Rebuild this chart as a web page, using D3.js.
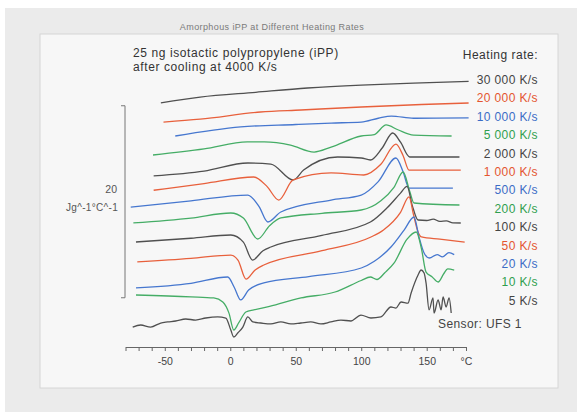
<!DOCTYPE html>
<html>
<head>
<meta charset="utf-8">
<script src="https://cdn.jsdelivr.net/npm/d3@7"></script>
<style>
body { margin: 0; background: #fff; }
svg { display: block; font-family: "Liberation Sans", Arial, sans-serif; }
.barlabel { fill: #555; }
</style>
</head>
<body>
<svg id="chart" width="577" height="412"></svg>
<script>
// heating rates, top to bottom
var rates = ["30 000 K/s", "20 000 K/s", "10 000 K/s", "5 000 K/s", "2 000 K/s", "1 000 K/s",
    "500 K/s", "200 K/s", "100 K/s", "50 K/s", "20 K/s", "10 K/s", "5 K/s"];

var xTicks = d3.range(-80, 181, 10),
    xLabels = [-50, 0, 50, 100, 150];

// [temperature °C, shifted heat capacity J/g/°C]
var cp30000 = [[-53, 24.7], [-23, 25.3], [19.5, 25.8], [59, 26.25], [100, 26.55], [140, 26.75], [182, 26.95]];
var cp20000 = [[-51, 22.7], [-23, 23.0], [23, 23.75], [54, 23.96], [100, 24.27], [146, 24.53], [182, 24.69]];
var cp10000 = [[-42, 21.25], [8, 22.2], [50, 22.45], [77, 22.6], [100, 22.7], [113, 23.1], [123, 23.33],
    [140, 23.1], [182, 23.13]];
var cp5000 = [[-59, 19.27], [-20, 19.9], [13, 20.63], [26, 20.63], [46, 20.3], [64, 19.58], [77, 20.1],
    [100, 21.25], [110, 21.4], [119, 22.4], [128, 21.9], [140, 21.35], [169, 21.25]];
var cp2000 = [[-58.5, 17.1], [-20, 17.6], [13.4, 18.44], [31, 18.33], [48, 16.67], [56, 17.7], [82, 19.06],
    [100, 18.96], [107, 18.75], [116, 20.0], [124, 21.56], [130, 20.6], [137, 19.06], [175, 19.06]];
var cp1000 = [[-58.5, 15.6], [-20, 16.3], [18, 16.98], [28, 16.0], [37, 14.58], [48, 16.67], [77, 17.4],
    [102, 17.19], [115, 18.3], [126.5, 20.4], [132, 19.2], [136.5, 17.7], [176, 17.7]];
var cp500 = [[-76, 13.85], [-30, 14.5], [13.4, 15.1], [22, 13.9], [28.7, 12.29], [38.6, 13.33], [77, 14.58],
    [100, 15.1], [113, 16.5], [126.5, 18.96], [132, 17.5], [136.5, 15.83], [170, 15.83]];
var cp200 = [[-74, 12.19], [-30, 12.7], [0.4, 13.23], [10, 12.7], [21, 10.52], [30, 11.9], [38.6, 12.71],
    [70, 13.2], [100, 13.54], [115, 14.5], [125, 15.9], [132, 17.5], [137, 15.5], [140.3, 14.27], [175, 14.06]];
var cp100 = [[-72, 10.21], [-30, 10.6], [0.4, 10.94], [10, 10.2], [17, 8.33], [25, 9.3], [31, 9.69],
    [70, 10.9], [107, 12.29], [120, 13.8], [130, 15.3], [135, 16.0], [139, 14.0], [143.4, 12.5],
    [150, 12.45], [155, 12.6], [160, 12.35], [165, 12.4], [170, 12.2], [176, 12.19]];
var cp50 = [[-71, 8.13], [-30, 8.5], [0.4, 8.85], [6, 8.3], [12, 6.35], [19, 7.3], [25.6, 7.81], [70, 9.3],
    [107, 10.7], [117, 11.46], [130, 13.3], [136.5, 14.9], [140, 13.0], [143.4, 11.25], [146, 10.73],
    [160, 10.5], [179, 10.2]];
var cp20 = [[-72, 5.42], [-30, 5.9], [-1.9, 6.56], [3, 5.5], [8, 4.17], [14, 5.2], [25.6, 5.94], [60, 6.6],
    [100, 7.5], [110, 8.2], [122.7, 9.69], [133, 11.5], [140.3, 12.81], [144, 10.8], [148, 9.06], [152, 8.54],
    [158, 8.9], [162, 8.65], [167, 9.1], [171, 8.9]];
var cp10 = [[-72, 4.69], [-30, 4.5], [-12.6, 4.38], [-5.7, 3.96], [-1, 2.8], [2.7, 1.04], [6.5, 1.8],
    [11.9, 2.92], [18, 3.13], [30, 3.5], [54, 4.38], [80, 5.0], [100, 6.2], [107, 6.56], [112, 6.3],
    [118, 7.0], [125, 8.0], [135, 10.5], [142, 11.25], [146, 9.5], [149.5, 7.08], [154, 6.6], [158.7, 6.04],
    [163, 6.9], [166, 7.4], [171, 7.29]];
var cp5 = [[-74.5, 1.35], [-68.4, 1.56], [-60.8, 1.35], [-53.1, 1.77], [-47.8, 1.88], [-41.7, 1.98],
    [-34, 2.19], [-26.4, 2.08], [-18.7, 2.29], [-9.6, 2.4], [-3.4, 2.29], [0.4, 1.04], [2.7, 0.31],
    [5.7, 0.73], [9.6, 1.35], [13.4, 2.4], [17.2, 1.88], [23.3, 1.77], [31, 1.67], [38.6, 1.88], [46.3, 1.67],
    [53.9, 1.77], [61.5, 1.88], [69.2, 1.67], [76.8, 1.88], [84.5, 2.08], [92.1, 1.98], [99.8, 2.6],
    [107.4, 2.29], [115, 2.4], [122.7, 3.44], [126.5, 3.33], [130.4, 3.96], [135.7, 3.85], [138.1, 4.9],
    [143.4, 6.77], [145.7, 7.29], [148, 6.98], [149.5, 5.94], [151.8, 3.13], [154.8, 4.38], [155.6, 2.81],
    [158.7, 4.17], [161, 3.13], [162.5, 4.48], [164.8, 3.44], [167.1, 4.38], [168.7, 2.81]];

var series = [cp30000, cp20000, cp10000, cp5000, cp2000, cp1000, cp500, cp200, cp100, cp50, cp20, cp10, cp5];

// scale bar: 20 J/g/°C
var barFrom = 4.4,
    barSize = 20;

var lineColors = ["#505050", "#e8603c", "#4677cf", "#45ad66"],
    textColors = ["#444", "#e4552f", "#3b6cc6", "#2f9f4e"];

var svg = d3.select("#chart");

svg.append("rect")
    .attr("x", 5)
    .attr("y", 8)
    .attr("width", 572)
    .attr("height", 404)
    .attr("fill", "#ebebeb");

svg.append("rect")
    .attr("x", 40)
    .attr("y", 34)
    .attr("width", 518)
    .attr("height", 354)
    .attr("fill", "#f7f7f7")
    .attr("stroke", "#d6d6d6");

svg.append("text")
    .attr("x", 272)
    .attr("y", 30)
    .attr("text-anchor", "middle")
    .attr("font-size", 9)
    .attr("letter-spacing", 0.4)
    .attr("fill", "#7a7a7a")
    .text("Amorphous iPP at Different Heating Rates");

svg.append("text")
    .attr("x", 133)
    .attr("y", 57)
    .attr("font-size", 12)
    .attr("letter-spacing", 0.6)
    .attr("fill", "#333")
    .text("25 ng isotactic polypropylene (iPP)");

svg.append("text")
    .attr("x", 133)
    .attr("y", 71)
    .attr("font-size", 12)
    .attr("letter-spacing", 0.6)
    .attr("fill", "#333")
    .text("after cooling at 4000 K/s");

var x = d3.scaleLinear().domain([-80, 180]).range([125.5, 466]);
var y = d3.scaleLinear().domain([0, 30]).range([340, 52]);

var line = d3.line()
    .x(function(d) { return x(d[0]); })
    .y(function(d) { return y(d[1]); })
    .curve(d3.curveMonotoneX);

svg.append("g").selectAll("path")
    .data(series)
    .enter().append("path")
    .attr("d", line)
    .attr("fill", "none")
    .attr("stroke", function(d, i) { return lineColors[i % 4]; })
    .attr("stroke-width", 1.3);

// legend
svg.append("text")
    .attr("x", 538)
    .attr("y", 59)
    .attr("text-anchor", "end")
    .attr("font-size", 12)
    .attr("letter-spacing", 0.5)
    .attr("fill", "#333")
    .text("Heating rate:");

svg.append("g").selectAll("text")
    .data(rates)
    .enter().append("text")
    .attr("x", 538)
    .attr("y", function(d, i) { return 84 + i * 18.4; })
    .attr("text-anchor", "end")
    .attr("font-size", 12)
    .attr("letter-spacing", 0.4)
    .attr("fill", function(d, i) { return textColors[i % 4]; })
    .text(function(d) { return d; });

svg.append("text")
    .attr("x", 438)
    .attr("y", 328)
    .attr("font-size", 12)
    .attr("letter-spacing", 0.4)
    .attr("fill", "#444")
    .text("Sensor: UFS 1");

// scale bar
svg.append("path")
    .attr("d", "M121," + y(barFrom + barSize) + "H125V" + y(barFrom) + "H121")
    .attr("fill", "none")
    .attr("stroke", "#777")
    .attr("stroke-width", 1);

svg.append("text")
    .attr("class", "barlabel")
    .attr("x", 117)
    .attr("y", 193)
    .attr("text-anchor", "end")
    .attr("font-size", 10.5)
    .text(String(barSize));

svg.append("text")
    .attr("class", "barlabel")
    .attr("x", 118)
    .attr("y", 211)
    .attr("text-anchor", "end")
    .attr("font-size", 10)
    .attr("letter-spacing", 0.3)
    .text("Jg^-1°C^-1");

// x axis
var axis = svg.append("g")
    .attr("transform", "translate(0,347)")
    .call(d3.axisBottom(x)
        .tickValues(xTicks)
        .tickSize(4)
        .tickSizeOuter(0)
        .tickPadding(7)
        .tickFormat(function(d) {
            if (d == 180) return "°C";
            return xLabels.indexOf(d) >= 0 ? d : "";
        }));

axis.select(".domain").attr("stroke", "#666");
axis.selectAll(".tick line").attr("stroke", "#666");
axis.selectAll(".tick text")
    .attr("font-size", 10.5)
    .attr("fill", "#444")
    .attr("font-family", "Liberation Sans, Arial, sans-serif");
</script>
</body>
</html>
